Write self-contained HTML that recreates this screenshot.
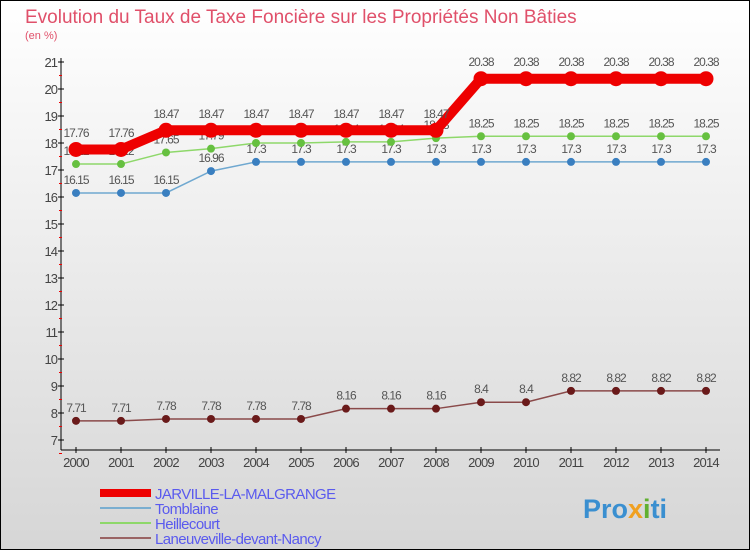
<!DOCTYPE html>
<html><head><meta charset="utf-8"><style>
body{margin:0}
#c{width:750px;height:550px;position:relative;overflow:hidden;font-family:"Liberation Sans",sans-serif}
</style></head><body>
<div id="c">
<svg id="s" width="750" height="550" xmlns="http://www.w3.org/2000/svg">
<defs><linearGradient id="bg" x1="0" y1="0" x2="0" y2="1"><stop offset="0" stop-color="#ffffff"/><stop offset="1" stop-color="#d6d6d6"/></linearGradient></defs>
<rect x="0.5" y="0.5" width="749" height="549" fill="url(#bg)" stroke="#000"/>
<text x="25" y="23" font-size="19" fill="#e0506a">Evolution du Taux de Taxe Foncière sur les Propriétés Non Bâties</text>
<text x="25" y="39" font-size="11" fill="#e0506a">(en %)</text>
<g id="axes"></g><g id="series"></g><g id="legend"></g>
<text x="583" y="518" font-size="27" font-weight="bold" fill="#3a8fd0">Pro<tspan fill="#f0a020">x</tspan><tspan fill="#60b030">i</tspan>ti</text>
</svg></div>
<script>
const years=[2000,2001,2002,2003,2004,2005,2006,2007,2008,2009,2010,2011,2012,2013,2014];
const jarville=[17.76,17.76,18.47,18.47,18.47,18.47,18.47,18.47,18.47,20.38,20.38,20.38,20.38,20.38,20.38];
const tomblaine=[16.15,16.15,16.15,16.96,17.3,17.3,17.3,17.3,17.3,17.3,17.3,17.3,17.3,17.3,17.3];
const heillecourt=[17.22,17.22,17.65,17.79,18,18,18.04,18.04,18.18,18.25,18.25,18.25,18.25,18.25,18.25];
const laneuveville=[7.71,7.71,7.78,7.78,7.78,7.78,8.16,8.16,8.16,8.4,8.4,8.82,8.82,8.82,8.82];
const yTicks=[7,8,9,10,11,12,13,14,15,16,17,18,19,20,21];
const NS="http://www.w3.org/2000/svg";
const xs=i=>76+45*i, ys=v=>440-(v-7)*27;
function mk(t,a,p){const e=document.createElementNS(NS,t);for(const k in a)e.setAttribute(k,a[k]);p.appendChild(e);return e;}
const ax=document.getElementById('axes');
let l=mk('line',{x1:61,y1:58,x2:61,y2:450,stroke:'#000'},ax);

l=mk('line',{x1:61,y1:450,x2:720,y2:450,stroke:'#000'},ax);

yTicks.forEach(v=>{const y=ys(v);mk('line',{x1:58,y1:y,x2:64,y2:y,stroke:'#000'},ax);
mk('line',{x1:59,y1:y+13.5,x2:62,y2:y+13.5,stroke:'#e00'},ax);
const t=mk('text',{x:57,y:y+5,'font-size':13,'text-anchor':'end',fill:'#444','letter-spacing':'-1'},ax);t.textContent=v;
});
years.forEach((yr,i)=>{const x=xs(i);mk('line',{x1:x,y1:447,x2:x,y2:453,stroke:'#000'},ax);
const t=mk('text',{x:x,y:467,'font-size':13,'text-anchor':'middle',fill:'#444','letter-spacing':'-0.8'},ax);t.textContent=yr;
});
const sg=document.getElementById('series');
const defs=[['tomblaine',tomblaine,'#6fa8d0','#3a7fc0',1.5,4],['heillecourt',heillecourt,'#8ed86a','#66c040',1.5,4],['laneuveville',laneuveville,'#8a4a4a','#6a1a1a',1.5,4],['jarville',jarville,'#ee0000','#ee0000',10,7.5]];
defs.forEach(([n,d,lc,pc,w,r])=>{
const p=mk('polyline',{points:d.map((v,i)=>xs(i)+','+ys(v)).join(' '),fill:'none',stroke:lc,'stroke-width':w},sg);

d.forEach((v,i)=>{const c=mk('circle',{cx:xs(i),cy:ys(v),r:r,fill:pc},sg);

const t=mk('text',{x:xs(i),y:ys(v)-(r+5),'font-size':12,'text-anchor':'middle',fill:'#555','letter-spacing':'-1'},sg);t.textContent=v;
});});
const lg=document.getElementById('legend');
[['JARVILLE-LA-MALGRANGE','#ee0000',8],['Tomblaine','#7aaed0',2],['Heillecourt','#8ed86a',2],['Laneuveville-devant-Nancy','#9a6464',2]].forEach(([n,c,w],i)=>{
const y=493+i*15;const ln=mk('line',{x1:100,y1:y,x2:151,y2:y,stroke:c,'stroke-width':w},lg);

const t=mk('text',{x:155,y:y+6,'font-size':15,fill:'#5a5aee','letter-spacing':'-0.6'},lg);t.textContent=n;
});
</script></body></html>
